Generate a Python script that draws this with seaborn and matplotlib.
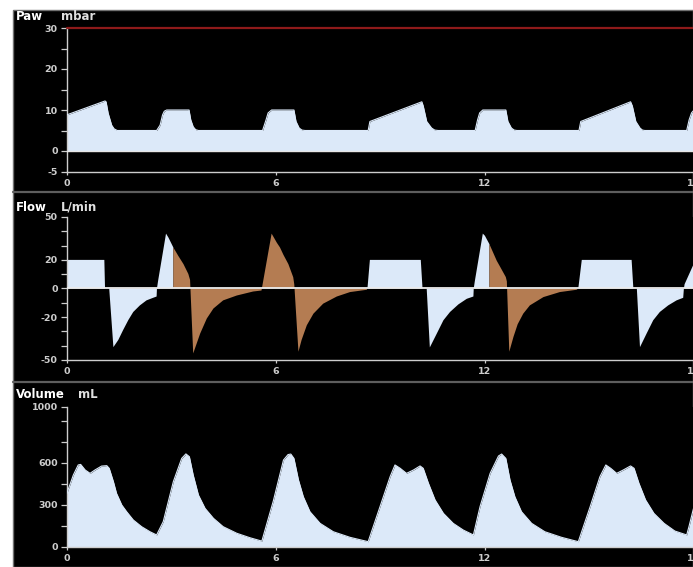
import numpy as np
import pandas as pd
import matplotlib
matplotlib.use("Agg")
import matplotlib.pyplot as plt
from matplotlib.patches import Rectangle
from matplotlib.lines import Line2D
import seaborn as sns

# ---------------- waveform data (time in seconds) ----------------
paw_t = [0.00, 1.10, 1.13, 1.19, 1.29, 1.36, 1.45, 2.58, 2.68, 2.75, 2.80, 2.87,
         3.51, 3.56, 3.63, 3.70, 3.78, 5.62, 5.72, 5.78, 5.88, 6.52, 6.58, 6.67,
         6.75, 6.84, 8.65, 8.70, 10.19, 10.23, 10.33, 10.47, 10.56, 10.66, 11.72,
         11.79, 11.85, 11.94, 12.60, 12.66, 12.76, 12.84, 12.92, 14.70, 14.75,
         16.18, 16.23, 16.33, 16.45, 16.52, 16.59, 17.79, 17.86, 17.93, 18.00]
paw_v = [8.8, 12.2, 12.0, 9.2, 6.3, 5.4, 5.0, 5.0, 6.3, 8.8, 9.7, 10.0,
         10.0, 7.6, 5.9, 5.2, 5.0, 5.0, 7.6, 9.3, 10.0, 10.0, 7.2, 5.6,
         5.1, 5.0, 5.0, 7.2, 12.0, 11.0, 7.2, 5.6, 5.1, 5.0, 5.0,
         7.6, 9.3, 10.0, 10.0, 7.2, 5.6, 5.1, 5.0, 5.0, 7.2,
         12.0, 11.0, 7.2, 5.6, 5.1, 5.0, 5.0, 7.6, 9.3, 10.0]
paw_alarm = 30

flow_t = [0.00, 1.08, 1.10, 1.22, 1.34, 1.48, 1.62, 1.77, 1.91, 2.10, 2.29, 2.48,
          2.58, 2.59, 2.62, 2.85, 2.92, 3.06, 3.20, 3.35, 3.49, 3.54, 3.63, 3.83,
          4.02, 4.21, 4.49, 4.88, 5.35, 5.59, 5.60, 5.88, 6.03, 6.12, 6.22, 6.36,
          6.50, 6.53, 6.65, 6.74, 6.89, 7.08, 7.36, 7.75, 8.13, 8.61, 8.63, 8.70,
          10.16, 10.21, 10.33, 10.42, 10.62, 10.81, 11.00, 11.24, 11.48, 11.67,
          11.68, 11.71, 11.94, 12.00, 12.13, 12.34, 12.43, 12.60, 12.63, 12.70,
          12.82, 12.94, 13.10, 13.29, 13.68, 14.15, 14.63, 14.68, 14.78, 16.21,
          16.26, 16.36, 16.45, 16.64, 16.83, 17.02, 17.26, 17.50, 17.69, 17.71,
          17.73, 17.97, 18.00]
flow_v = [20, 20, 0, 0, -41, -36, -29, -22, -16.4, -11.8, -8.3, -6.5,
          -5.6, 0, 5, 38.4, 35.6, 28.7, 22.9, 17.1, 10.2, 6, -45.4, -31.5,
          -21, -14, -8.3, -4.9, -2.1, -1.4, 0, 38.4, 32, 28.7, 23.5, 17.1,
          7.9, 3, -44.2, -36, -25.7, -17.6, -10.6, -5.6, -2.5, -0.9, 0, 20,
          20, 0, 0, -41.2, -31.5, -22.2, -16.4, -11.1, -7.2, -5.6,
          0, 5, 38.4, 36.9, 31, 19.4, 15.5, 8, 5, -44.2,
          -33.8, -25, -17.6, -11.8, -6, -2.5, -0.9, 0, 20, 20,
          0, 0, -41, -31.5, -22.2, -16.4, -11.8, -8.3, -6.5, 0,
          3, 16, 17]
# stretches of the flow trace shaded brown
flow_brown_spans = [(3.06, 8.63), (12.13, 14.68)]

vol_t = [0.00, 0.19, 0.33, 0.40, 0.53, 0.67, 0.81, 1.00, 1.15, 1.22, 1.34, 1.43,
         1.58, 1.72, 1.91, 2.15, 2.39, 2.58, 2.77, 3.06, 3.30, 3.42, 3.52, 3.63,
         3.78, 3.97, 4.21, 4.49, 4.88, 5.26, 5.60, 5.93, 6.22, 6.35, 6.43, 6.52,
         6.65, 6.79, 6.98, 7.27, 7.65, 8.13, 8.65, 8.99, 9.28, 9.42, 9.57, 9.75,
         9.95, 10.14, 10.23, 10.38, 10.57, 10.81, 11.09, 11.38, 11.67, 11.86,
         12.15, 12.39, 12.48, 12.60, 12.72, 12.86, 13.05, 13.34, 13.72, 14.20,
         14.68, 15.02, 15.30, 15.47, 15.61, 15.78, 15.97, 16.18, 16.28, 16.42,
         16.61, 16.85, 17.14, 17.45, 17.79, 17.86, 18.00]
vol_v = [380, 514, 586, 590, 550, 526, 550, 578, 581, 562, 467, 383,
         300, 252, 193, 145, 109, 86, 181, 467, 633, 665, 645, 514,
         371, 276, 205, 145, 98, 66, 42, 330, 621, 660, 664, 633,
         479, 359, 252, 169, 109, 69, 38, 288, 502, 586, 562, 526,
         550, 579, 562, 455, 336, 240, 169, 121, 86, 288,
         526, 650, 664, 633, 479, 359, 252, 169, 109, 69,
         38, 288, 502, 586, 562, 526, 550, 579, 562, 455,
         336, 240, 169, 114, 86, 150, 290]

x_ticks = [0, 6, 12, 18]
x_labels = ["0", "6", "12", "18"]
paw_ticks = [30, 25, 20, 15, 10, 5, 0, -5]
paw_labels = ["30", "", "20", "", "10", "", "0", "-5"]
flow_ticks = [50, 40, 30, 20, 10, 0, -10, -20, -30, -40, -50]
flow_labels = ["50", "", "", "20", "", "0", "", "-20", "", "", "-50"]
vol_ticks = [1000, 900, 750, 600, 450, 300, 150, 0]
vol_labels = ["1000", "", "", "600", "", "300", "", "0"]

panels = [("Paw", "mbar"), ("Flow", "L/min"), ("Volume", "mL")]

# ---------------- style ----------------
LIGHT = "#dce9f9"
BROWN = "#b47c52"
AXC = "#cdcdcd"
ALARM = "#8e1a1a"

sns.set_theme(style="ticks", rc={
    "axes.facecolor": "black",
    "figure.facecolor": "white",
    "axes.edgecolor": AXC,
    "xtick.color": AXC,
    "ytick.color": AXC,
})
plt.rcParams["font.family"] = ["DejaVu Sans"]

W, H = 693, 567
fig = plt.figure(figsize=(W / 100, H / 100), dpi=100)

# monitor screen background and panel separators
fig.add_artist(Rectangle((13 / W, 0), 1 - 13 / W, 1 - 10 / H, transform=fig.transFigure,
                         facecolor="black", edgecolor="#707070", lw=1.0, zorder=0))
for yy in (192, 382):
    fig.add_artist(Line2D([13 / W, 1], [1 - yy / H] * 2, transform=fig.transFigure,
                          color="#5e5e5e", lw=1.6, zorder=1))


def make_axes(top_px, bottom_px):
    x0 = 66.7
    return fig.add_axes([x0 / W, 1 - bottom_px / H, (694 - x0) / W, (bottom_px - top_px) / H])


def style_axes(ax, ylim, yticks, ylabels):
    ax.set_xlim(0, 18)
    ax.set_ylim(*ylim)
    ax.set_facecolor("black")
    for s in ("top", "right"):
        ax.spines[s].set_visible(False)
    for s in ("left", "bottom"):
        ax.spines[s].set_color(AXC)
        ax.spines[s].set_linewidth(1.0)
    ax.set_xticks(x_ticks)
    ax.set_xticklabels(x_labels, fontsize=6.8, fontweight="bold", color=AXC)
    ax.set_yticks(yticks)
    ax.set_yticklabels(ylabels, fontsize=6.8, fontweight="bold", color=AXC)
    ax.tick_params(axis="x", direction="out", length=2.2, width=0.9, pad=3)
    ax.tick_params(axis="y", direction="out", length=4, width=0.9, pad=2.5)
    ax.set_xlabel("")
    ax.set_ylabel("")


# ---------------- Paw ----------------
ax1 = make_axes(28, 171.5)
paw = pd.DataFrame({"t": paw_t, "v": paw_v})
ax1.fill_between(paw["t"], 0, paw["v"], color=LIGHT, lw=0, zorder=2)
sns.lineplot(data=paw, x="t", y="v", ax=ax1, color=LIGHT, lw=0.8,
             sort=False, estimator=None, zorder=3)
ax1.axhline(0, color="#e6e6e6", lw=1.0, zorder=4)
ax1.axhline(paw_alarm, color=ALARM, lw=1.6, zorder=4, clip_on=False)
style_axes(ax1, (-5, 30), paw_ticks, paw_labels)

# ---------------- Flow ----------------
ax2 = make_axes(217, 360)
flow = pd.DataFrame({"t": flow_t, "v": flow_v})
inside = np.zeros(len(flow), dtype=bool)
edge = np.zeros(len(flow), dtype=bool)
for a, b in flow_brown_spans:
    inside |= (flow["t"] > a) & (flow["t"] < b)
    edge |= np.isclose(flow["t"], a) | np.isclose(flow["t"], b)
brown_mask = inside | edge
blue_mask = ~inside
ax2.fill_between(flow["t"], 0, flow["v"], where=blue_mask, color=LIGHT, lw=0, zorder=2)
ax2.fill_between(flow["t"], 0, flow["v"], where=brown_mask, color=BROWN, lw=0, zorder=2)
ax2.axhline(0, color="#ececec", lw=1.3, zorder=4)
style_axes(ax2, (-50, 50), flow_ticks, flow_labels)

# ---------------- Volume ----------------
ax3 = make_axes(407, 547)
vol = pd.DataFrame({"t": vol_t, "v": vol_v})
ax3.fill_between(vol["t"], 0, vol["v"], color=LIGHT, lw=0, zorder=2)
sns.lineplot(data=vol, x="t", y="v", ax=ax3, color=LIGHT, lw=0.8,
             sort=False, estimator=None, zorder=3)
style_axes(ax3, (0, 1000), vol_ticks, vol_labels)

# panel captions
caption_rows = [20.5, 210.5, 397.5]
unit_x = [61, 61, 78]
for (name, unit), yb, ux in zip(panels, caption_rows, unit_x):
    fig.text(16 / W, 1 - yb / H, name, color="white", fontsize=8.5,
             fontweight="bold", va="baseline", ha="left")
    fig.text(ux / W, 1 - yb / H, unit, color="#e0e0e0", fontsize=8.5,
             fontweight="bold", va="baseline", ha="left")

fig.savefig("out.png", dpi=100, facecolor="white")
